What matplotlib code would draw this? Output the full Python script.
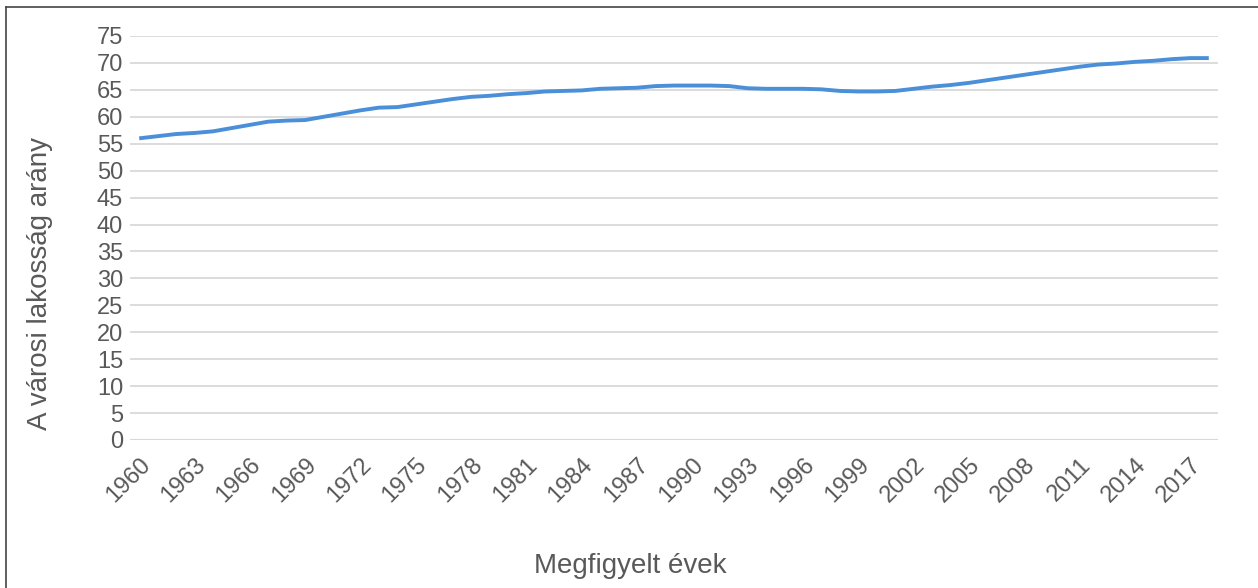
import matplotlib
matplotlib.use("Agg")
import matplotlib.pyplot as plt
from matplotlib.lines import Line2D

plt.rcParams['font.family'] = ['Liberation Sans', 'DejaVu Sans']

years = list(range(1960, 2019))
values = [56.0, 56.4, 56.8, 57.0, 57.3, 57.9, 58.5, 59.1, 59.3, 59.4,
          60.0, 60.6, 61.2, 61.7, 61.8, 62.3, 62.8, 63.3, 63.7, 63.9,
          64.2, 64.4, 64.7, 64.8, 64.9, 65.2, 65.3, 65.4, 65.7, 65.8,
          65.8, 65.8, 65.7, 65.3, 65.2, 65.2, 65.2, 65.1, 64.8, 64.7,
          64.7, 64.8, 65.2, 65.6, 65.9, 66.3, 66.8, 67.3, 67.8, 68.3,
          68.8, 69.3, 69.7, 69.9, 70.2, 70.4, 70.7, 70.9, 70.9]
tick_years = years[::3][:20]
y_ticks = list(range(0, 80, 5))

W, H = 1258, 588
fig = plt.figure(figsize=(W / 100, H / 100), dpi=100)
fig.patch.set_facecolor('white')

ax = fig.add_axes([130 / W, (H - 440) / H, (1218 - 130) / W, (440 - 36) / H])
x = list(range(len(years)))
ax.plot(x, values, color='#4A8FD8', lw=2.8, solid_capstyle='butt', zorder=3)

ax.set_xlim(-0.5, len(years) - 0.5)
ax.set_ylim(0, 75)
ax.set_yticks(y_ticks)
ax.set_yticklabels([str(v) for v in y_ticks], fontsize=17, color='#595959')
pos = [years.index(t) for t in tick_years]
ax.set_xticks(pos)
ax.set_xticklabels([str(t) for t in tick_years], rotation=45, ha='right',
                   rotation_mode='anchor', fontsize=17, color='#595959')
ax.tick_params(axis='both', length=0)
ax.tick_params(axis='y', pad=5)
ax.tick_params(axis='x', pad=10)
ax.grid(axis='y', color='#D9D9D9', lw=1.3, zorder=0)
for s in ax.spines.values():
    s.set_visible(False)
ax.axhline(0, color='#CFCFCF', lw=1.5, zorder=1)

ax.set_ylabel('A városi lakosság arány', fontsize=20, color='#595959')
ax.yaxis.set_label_coords(-(130 - 53) / (1218 - 130), (440 - 284) / (440 - 36))
fig.text(630 / W, 1 - 573 / H, 'Megfigyelt évek', ha='center', va='baseline',
         fontsize=20, color='#595959')

# frame
fig.add_artist(Line2D([6 / W, 6 / W], [0, 1 - 7 / H], transform=fig.transFigure,
                      color='#444444', lw=1.2))
fig.add_artist(Line2D([6 / W, 1], [1 - 7 / H, 1 - 7 / H], transform=fig.transFigure,
                      color='#444444', lw=1.2))

fig.savefig('out.png', dpi=100)
